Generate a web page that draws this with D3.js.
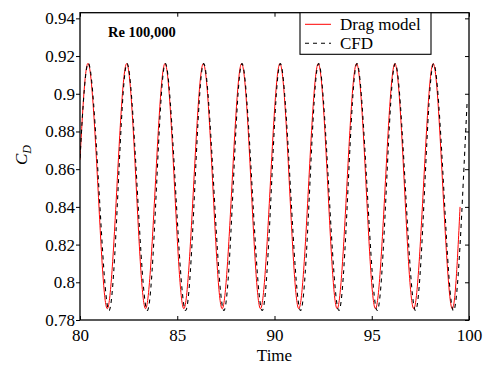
<!DOCTYPE html>
<html lang="en">
	<head>
		<meta charset="UTF-8" />
		<title>Drag coefficient</title>
		<style>
			body { margin: 0; background: #fff; }
			text { font-family: "Liberation Serif", "Times New Roman", serif; fill: #000; }
		</style>
	</head>
	<body>
		<svg width="483" height="369" id="svg"></svg>
		<script src="https://cdn.jsdelivr.net/npm/d3@7"></script>
		<script>
			// Drag model (red, solid)
			const dragTime = [
				80.0, 80.43, 80.92, 81.4, 81.9, 82.4, 82.89, 83.37, 83.87, 84.37,
				84.86, 85.34, 85.84, 86.34, 86.83, 87.31, 87.81, 88.31, 88.8, 89.28,
				89.78, 90.28, 90.77, 91.25, 91.75, 92.25, 92.74, 93.22, 93.72, 94.22,
				94.71, 95.19, 95.69, 96.19, 96.68, 97.16, 97.66, 98.16, 98.65, 99.13,
				99.54,
			]
			const dragCd = [
				0.865, 0.916, 0.851, 0.786, 0.851, 0.916, 0.851, 0.786, 0.851, 0.916,
				0.851, 0.786, 0.851, 0.916, 0.851, 0.786, 0.851, 0.916, 0.851, 0.786,
				0.851, 0.916, 0.851, 0.786, 0.851, 0.916, 0.851, 0.786, 0.851, 0.916,
				0.851, 0.786, 0.851, 0.916, 0.851, 0.786, 0.851, 0.916, 0.851, 0.786,
				0.84,
			]
			// CFD (black, dashed)
			const cfdTime = [
				80.0, 80.45, 80.97, 81.49, 81.96, 82.42, 82.94, 83.46, 83.93, 84.39,
				84.91, 85.43, 85.9, 86.36, 86.88, 87.4, 87.87, 88.33, 88.85, 89.37,
				89.84, 90.3, 90.82, 91.34, 91.81, 92.27, 92.79, 93.31, 93.78, 94.24,
				94.76, 95.28, 95.75, 96.21, 96.73, 97.25, 97.72, 98.18, 98.7, 99.22,
				99.69, 99.9,
			]
			const cfdCd = [
				0.866, 0.916, 0.85, 0.785, 0.85, 0.916, 0.85, 0.785, 0.85, 0.916,
				0.85, 0.785, 0.85, 0.916, 0.85, 0.785, 0.85, 0.916, 0.85, 0.785,
				0.85, 0.916, 0.85, 0.785, 0.85, 0.916, 0.85, 0.785, 0.85, 0.916,
				0.85, 0.785, 0.85, 0.916, 0.85, 0.785, 0.85, 0.916, 0.85, 0.785,
				0.85, 0.895,
			]

			const xTicks = [80, 85, 90, 95, 100]
			const xTickLabels = ["80", "85", "90", "95", "100"]
			const yTicks = [0.78, 0.8, 0.82, 0.84, 0.86, 0.88, 0.9, 0.92, 0.94]
			const yTickLabels = ["0.78", "0.8", "0.82", "0.84", "0.86", "0.88", "0.9", "0.92", "0.94"]
			const seriesNames = ["Drag model", "CFD"]

			const svg = d3.select("#svg")
			const margin = { top: 12.7, left: 80, right: 14, bottom: 49 }
			const width = +svg.attr("width")
			const height = +svg.attr("height")
			const innerW = width - margin.left - margin.right
			const innerH = height - margin.top - margin.bottom

			const x = d3.scaleLinear().domain([80, 100]).range([0, innerW])
			const y = d3.scaleLinear().domain([0.78, 0.943]).range([innerH, 0])

			const g = svg
				.append("g")
				.attr("transform", `translate(${margin.left}, ${margin.top})`)

			g.append("clipPath")
				.attr("id", "clip")
				.append("rect")
				.attr("width", innerW)
				.attr("height", innerH)

			const line = d3
				.line()
				.x((d) => x(d[0]))
				.y((d) => y(d[1]))
				.curve(d3.curveNatural)

			const dragData = dragTime.map((t, i) => [t, dragCd[i]])
			const cfdData = cfdTime.map((t, i) => [t, cfdCd[i]])

			const lines = g.append("g").attr("clip-path", "url(#clip)")
			lines
				.append("path")
				.datum(dragData)
				.attr("d", line)
				.attr("fill", "none")
				.attr("stroke", "#ff0000")
				.attr("stroke-width", 1)
			lines
				.append("path")
				.datum(cfdData)
				.attr("d", line)
				.attr("fill", "none")
				.attr("stroke", "#000")
				.attr("stroke-width", 1.1)
				.attr("stroke-dasharray", "4,4")

			// axes: left ticks point out, the rest point in (as in the picture)
			const tickLen = 4
			const axisFont = "17px"
			const axBottom = g
				.append("g")
				.attr("transform", `translate(0, ${innerH})`)
				.call(d3.axisBottom(x).tickValues(xTicks).tickSize(-tickLen).tickPadding(9)
					.tickFormat((d, i) => xTickLabels[i]))
			const axTop = g
				.append("g")
				.call(d3.axisTop(x).tickValues(xTicks).tickSize(-tickLen).tickFormat(""))
			const axLeft = g
				.append("g")
				.call(d3.axisLeft(y).tickValues(yTicks).tickSize(tickLen).tickPadding(1)
					.tickFormat((d, i) => yTickLabels[i]))
			const axRight = g
				.append("g")
				.attr("transform", `translate(${innerW}, 0)`)
				.call(d3.axisRight(y).tickValues(yTicks).tickSize(-tickLen).tickFormat(""))

			;[axBottom, axTop, axLeft, axRight].forEach((a) => {
				a.select(".domain").remove()
				a.selectAll("line").attr("stroke", "#000")
				a.selectAll("text")
					.style("font-size", axisFont)
					.style("font-family", '"Liberation Serif", serif')
			})

			g.append("rect")
				.attr("width", innerW)
				.attr("height", innerH)
				.attr("fill", "none")
				.attr("stroke", "#000")
				.attr("stroke-width", 1.3)

			// axis titles
			svg.append("text")
				.attr("x", margin.left + innerW / 2)
				.attr("y", 361)
				.attr("text-anchor", "middle")
				.style("font-size", "17px")
				.text("Time")

			const yl = svg
				.append("text")
				.attr("transform", "translate(27, 155) rotate(-90)")
				.attr("text-anchor", "middle")
				.style("font-size", "17px")
				.style("font-style", "italic")
			yl.append("tspan").text("C")
			yl.append("tspan").attr("dy", 4).style("font-size", "12px").text("D")

			g.append("text")
				.attr("x", 28)
				.attr("y", 24.8)
				.style("font-size", "14.5px")
				.style("font-weight", "bold")
				.text("Re 100,000")

			// legend
			const legend = svg.append("g").attr("transform", "translate(300, 12.7)")
			legend
				.append("rect")
				.attr("width", 131)
				.attr("height", 41.6)
				.attr("fill", "#fff")
				.attr("stroke", "#000")
				.attr("stroke-width", 1.1)
			const legendStyle = [
				{ stroke: "#ff0000", dash: null, w: 1 },
				{ stroke: "#000", dash: "4,4", w: 1.1 },
			]
			seriesNames.forEach((name, i) => {
				const yy = 11.6 + i * 19
				legend
					.append("line")
					.attr("x1", 5)
					.attr("x2", 31)
					.attr("y1", yy)
					.attr("y2", yy)
					.attr("stroke", legendStyle[i].stroke)
					.attr("stroke-width", legendStyle[i].w)
					.attr("stroke-dasharray", legendStyle[i].dash)
				legend
					.append("text")
					.attr("x", 40)
					.attr("y", yy + 6)
					.style("font-size", "17px")
					.text(name)
			})
		</script>
	</body>
</html>
